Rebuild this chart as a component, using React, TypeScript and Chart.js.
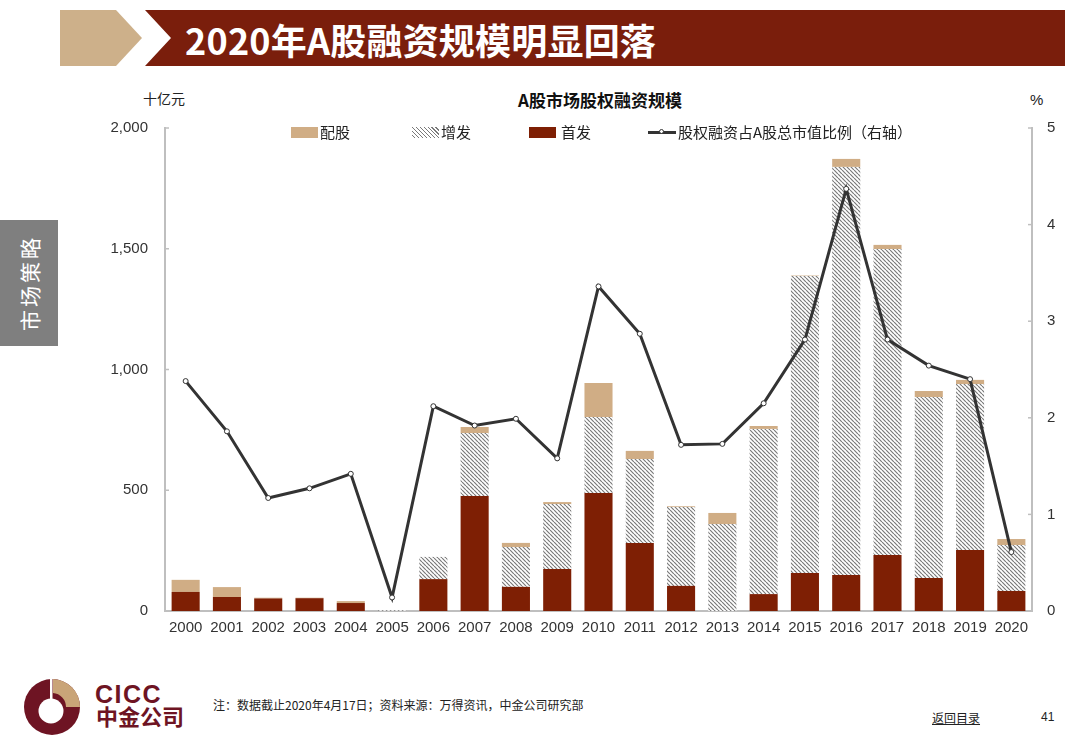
import React, { useEffect, useRef } from "react";
import { Chart, registerables } from "chart.js";

Chart.register(...registerables);

const years = ["2000","2001","2002","2003","2004","2005","2006","2007","2008","2009","2010","2011","2012","2013","2014","2015","2016","2017","2018","2019","2020"];
const ipo = [79, 58, 52, 53, 33, 0, 132, 476, 100, 174, 489, 282, 104, 0, 70, 157, 149, 232, 137, 253, 83];
const seo = [0, 0, 0, 0, 0, 3, 92, 261, 165, 269, 314, 347, 327, 360, 684, 1230, 1690, 1267, 749, 687, 190];
const rights = [50, 41, 3, 2, 8, 0, 0, 25, 17, 8, 141, 34, 3, 46, 12, 2, 33, 17, 25, 17, 25];
const ratio = [2.38, 1.86, 1.17, 1.27, 1.42, 0.14, 2.12, 1.92, 1.99, 1.58, 3.36, 2.87, 1.72, 1.73, 2.15, 2.81, 4.37, 2.81, 2.54, 2.40, 0.61];
const leftTicks = [0, 500, 1000, 1500, 2000];
const rightTicks = [0, 1, 2, 3, 4, 5];

const TAN = "#d0ad85";
const RED = "#7e1f04";
const BANNER = "#7a1e0c";
const LOGO = "#6e1423";
const CJK = '"Noto Sans CJK SC", "Noto Sans", sans-serif';
const LAT = '"Liberation Sans", Arial, sans-serif';

function makeHatch(): CanvasPattern | string {
  const s = 4;
  const c = document.createElement("canvas");
  c.width = s;
  c.height = s;
  const ctx = c.getContext("2d");
  if (!ctx) return "#bbb";
  ctx.fillStyle = "#ffffff";
  ctx.fillRect(0, 0, s, s);
  ctx.strokeStyle = "#7a7a7a";
  ctx.lineWidth = 1.2;
  ctx.beginPath();
  for (const k of [-s, 0, s]) {
    ctx.moveTo(k, 0);
    ctx.lineTo(k + s, s);
  }
  ctx.stroke();
  const p = ctx.createPattern(c, "repeat");
  return p || "#bbb";
}

const innerTicks = {
  id: "innerTicks",
  afterDraw(chart: any) {
    const ctx = chart.ctx;
    ctx.save();
    ctx.strokeStyle = "#bfbfbf";
    ctx.lineWidth = 1.5;
    const y = chart.scales.y;
    const y1 = chart.scales.y1;
    leftTicks.forEach((v) => {
      const py = y.getPixelForValue(v);
      ctx.beginPath();
      ctx.moveTo(chart.chartArea.left, py);
      ctx.lineTo(chart.chartArea.left + 4, py);
      ctx.stroke();
    });
    rightTicks.forEach((v) => {
      const py = y1.getPixelForValue(v);
      ctx.beginPath();
      ctx.moveTo(chart.chartArea.right, py);
      ctx.lineTo(chart.chartArea.right - 4, py);
      ctx.stroke();
    });
    ctx.restore();
  },
};

function ChartBox() {
  const ref = useRef<HTMLCanvasElement | null>(null);
  useEffect(() => {
    if (!ref.current) return;
    const hatch = makeHatch();
    const chart = new Chart(ref.current, {
      type: "bar",
      data: {
        labels: years,
        datasets: [
          { type: "line", label: "股权融资占A股总市值比例（右轴）", data: ratio, yAxisID: "y1", borderColor: "#333333", borderWidth: 3, pointRadius: 2.5, pointBackgroundColor: "#ffffff", pointBorderColor: "#333333", pointBorderWidth: 1, tension: 0, order: 0 } as any,
          { label: "首发", data: ipo, backgroundColor: RED, stack: "s", yAxisID: "y", order: 1, barPercentage: 0.68, categoryPercentage: 1 },
          { label: "增发", data: seo, backgroundColor: hatch as any, stack: "s", yAxisID: "y", order: 1, barPercentage: 0.68, categoryPercentage: 1 },
          { label: "配股", data: rights, backgroundColor: TAN, stack: "s", yAxisID: "y", order: 1, barPercentage: 0.68, categoryPercentage: 1 },
        ],
      },
      options: {
        animation: false,
        responsive: false,
        maintainAspectRatio: false,
        layout: { padding: { top: 10, left: 0, right: 0, bottom: 0 } },
        plugins: { legend: { display: false }, title: { display: false }, tooltip: { enabled: false } },
        scales: {
          x: {
            stacked: true,
            grid: { display: false, drawTicks: false },
            border: { color: "#bfbfbf", width: 2 },
            ticks: { color: "#333333", font: { family: LAT, size: 15 }, padding: 8, maxRotation: 0, autoSkip: false },
            afterFit: (s: any) => { s.height = 39; },
          },
          y: {
            stacked: true,
            position: "left",
            min: 0,
            max: 2000,
            grid: { display: false, drawTicks: false },
            border: { color: "#bfbfbf", width: 2 },
            ticks: { stepSize: 500, color: "#333333", font: { family: LAT, size: 15 }, padding: 17, callback: (v: any) => Number(v).toLocaleString("en-US") },
            afterFit: (s: any) => { s.width = 75; },
          },
          y1: {
            position: "right",
            min: 0,
            max: 5,
            grid: { display: false, drawTicks: false },
            border: { color: "#bfbfbf", width: 2 },
            ticks: { stepSize: 1, color: "#333333", font: { family: LAT, size: 15 }, padding: 15 },
            afterFit: (s: any) => { s.width = 48; },
          },
        },
      },
      plugins: [innerTicks],
    });
    return () => chart.destroy();
  }, []);
  return <canvas ref={ref} width={990} height={548} style={{ position: "absolute", left: 90, top: 102, width: 990, height: 548 }} />;
}

const abs = (o: React.CSSProperties): React.CSSProperties => ({ position: "absolute", whiteSpace: "nowrap", ...o });

export default function App() {
  const legendText: React.CSSProperties = { fontFamily: CJK, fontSize: 15, color: "#222", lineHeight: "18px" };
  return (
    <div style={{ position: "absolute", left: 0, top: 0, width: 1080, height: 754, background: "#ffffff", overflow: "hidden" }}>
      <svg width={1080} height={80} style={{ position: "absolute", left: 0, top: 0 }}>
        <polygon points="60,10 116,10 142,38 116,66 60,66" fill="#cdb08a" />
        <polygon points="145,10 1065,10 1065,66 145,66 171,38" fill={BANNER} />
      </svg>
      <div style={abs({ left: 185, top: 15, fontFamily: CJK, fontWeight: 700, fontSize: 36, color: "#ffffff", letterSpacing: 0.2, lineHeight: "48px" })}>2020年A股融资规模明显回落</div>

      <div style={abs({ left: 0, top: 220, width: 58, height: 126, background: "#7f7f7f" })} />
      <div style={abs({ left: 29, top: 283, transform: "translate(-50%,-50%) rotate(-90deg)", fontFamily: CJK, fontSize: 21, color: "#ffffff", letterSpacing: 3, lineHeight: "24px" })}>市场策略</div>

      <div style={abs({ left: 143, top: 89, fontFamily: CJK, fontSize: 14, color: "#222", lineHeight: "18px" })}>十亿元</div>
      <div style={abs({ left: 1030, top: 91, fontFamily: LAT, fontSize: 15, color: "#222", lineHeight: "18px" })}>%</div>
      <div style={abs({ left: 600, top: 89, transform: "translateX(-50%)", fontFamily: CJK, fontWeight: 700, fontSize: 17, color: "#111", lineHeight: "22px" })}>A股市场股权融资规模</div>

      <ChartBox />

      <div style={abs({ left: 291, top: 127, width: 27, height: 11, background: TAN })} />
      <div style={abs({ left: 320, top: 123, ...legendText })}>配股</div>
      <div style={abs({ left: 412, top: 127, width: 27, height: 11, background: "repeating-linear-gradient(45deg, #ffffff 0px, #ffffff 1.6px, #7a7a7a 1.6px, #7a7a7a 2.8px)" })} />
      <div style={abs({ left: 441, top: 123, ...legendText })}>增发</div>
      <div style={abs({ left: 529, top: 127, width: 27, height: 11, background: RED })} />
      <div style={abs({ left: 561, top: 123, ...legendText })}>首发</div>
      <div style={abs({ left: 648, top: 131, width: 28, height: 3, background: "#333" })} />
      <div style={abs({ left: 659, top: 129, width: 5, height: 5, borderRadius: 4, background: "#fff", border: "1px solid #333", boxSizing: "border-box" })} />
      <div style={abs({ left: 678, top: 123, ...legendText })}>股权融资占A股总市值比例（右轴）</div>

      <svg width={100} height={70} style={{ position: "absolute", left: 0, top: 674 }}>
        <circle cx={52} cy={33} r={28} fill={LOGO} />
        <path d="M 53 5 A 28 28 0 0 1 80 33 L 66 33 A 14 14 0 0 0 53 19 Z" fill="#c9a478" />
        <circle cx={51} cy={37} r={12.5} fill="#ffffff" />
        <rect x={50} y={5} width={2.5} height={20} fill="#ffffff" />
      </svg>
      <div style={abs({ left: 95, top: 680, fontFamily: LAT, fontWeight: 700, fontSize: 25, color: LOGO, letterSpacing: 1.5, lineHeight: "28px" })}>CICC</div>
      <div style={abs({ left: 96, top: 702, fontFamily: CJK, fontWeight: 700, fontSize: 22, color: LOGO, lineHeight: "26px" })}>中金公司</div>
      <div style={abs({ left: 213, top: 697, fontFamily: CJK, fontSize: 12, color: "#222", lineHeight: "16px" })}>注：数据截止2020年4月17日；资料来源：万得资讯，中金公司研究部</div>
      <div style={abs({ left: 932, top: 710, fontFamily: CJK, fontSize: 12, color: "#222", lineHeight: "16px", textDecoration: "underline" })}>返回目录</div>
      <div style={abs({ left: 1041, top: 709, fontFamily: LAT, fontSize: 12, color: "#222", lineHeight: "16px" })}>41</div>
    </div>
  );
}
